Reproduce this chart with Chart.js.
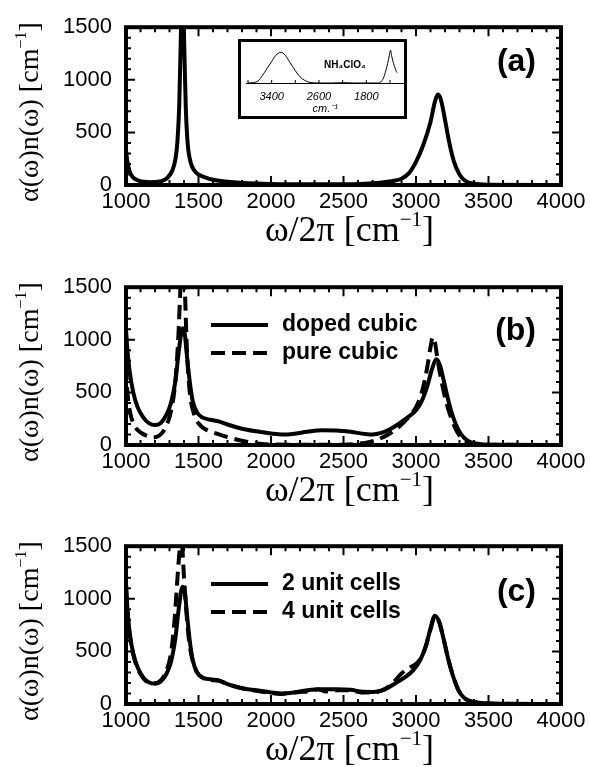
<!DOCTYPE html>
<html>
<head>
<meta charset="utf-8">
<script src="https://cdn.jsdelivr.net/npm/chart.js@4"></script>
<style>
  body { margin: 0; background: #fff; }
  #page { position: relative; width: 590px; height: 767px; overflow: hidden; }
  .panel { position: absolute; left: 0; width: 590px; height: 248px; }
  #inset { position: absolute; left: 238px; top: 39px; width: 169px; height: 80px;
           border: 3px solid #000; box-sizing: border-box; background: #fff; }
</style>
</head>
<body>
<div id="page">
  <div class="panel" style="top:0px"><canvas id="chartA"></canvas></div>
  <div class="panel" style="top:260px"><canvas id="chartB"></canvas></div>
  <div class="panel" style="top:519px"><canvas id="chartC"></canvas></div>
  <div id="inset"><canvas id="chartInset"></canvas></div>
</div>
<script>
// tick values
const xTickValues = [1000, 1500, 2000, 2500, 3000, 3500, 4000];
const yTickValues = [0, 500, 1000, 1500];
const insetTickValues = [3800, 3400, 3000, 2600, 2200, 1800, 1400];
const insetTickLabels = ['3400', '2600', '1800'];

// panel (a)
const waveA = [1000, 1010, 1025, 1050, 1080, 1120, 1170, 1220, 1260, 1290, 1320, 1340, 1355, 1368, 1378, 1386,
  1394, 1402, 1412, 1425, 1445, 1470, 1500, 1550, 1600, 1700, 1800, 2000, 2200, 2500, 2650, 2750, 2850,
  2900, 2950, 3000, 3050, 3100, 3130, 3150, 3170, 3200, 3230, 3260, 3300, 3340, 3400, 3500, 4000];
const absA = [330, 220, 130, 70, 45, 30, 25, 30, 45, 75, 140, 240, 420, 800, 1400, 1750,
  1750, 1300, 750, 400, 220, 140, 100, 70, 50, 30, 20, 10, 6, 6, 12, 22, 40,
  60, 110, 220, 380, 600, 790, 860, 820, 620, 400, 230, 100, 40, 12, 3, 0];

// panel (b)
const waveDoped = [1000, 1010, 1025, 1050, 1080, 1120, 1160, 1200, 1240, 1280, 1310, 1340, 1365, 1390, 1405,
  1420, 1440, 1460, 1490, 1530, 1580, 1640, 1700, 1800, 1900, 2000, 2080, 2150, 2250, 2350, 2450, 2550,
  2650, 2700, 2760, 2820, 2880, 2940, 3000, 3040, 3080, 3110, 3140, 3165, 3190, 3220, 3250, 3290, 3330,
  3380, 3450, 3550, 4000];
const absDoped = [1100, 900, 700, 500, 360, 260, 205, 190, 210, 290, 400, 600, 900, 1110, 1060,
  850, 600, 420, 310, 260, 240, 225, 195, 155, 130, 110, 100, 105, 125, 140, 138, 125,
  105, 100, 115, 150, 200, 260, 330, 420, 570, 720, 815, 760, 620, 440, 290, 150, 70,
  25, 8, 2, 0];
const wavePure = [1000, 1010, 1030, 1060, 1100, 1150, 1190, 1230, 1270, 1310, 1340, 1360, 1378, 1392, 1405,
  1420, 1440, 1470, 1510, 1560, 1620, 1700, 1800, 1900, 2000, 2200, 2500, 2600, 2680, 2750, 2820, 2880,
  2940, 3000, 3040, 3075, 3100, 3115, 3130, 3150, 3180, 3210, 3250, 3290, 3330, 3380, 3450, 4000];
const absPure = [750, 500, 300, 180, 120, 85, 72, 90, 160, 320, 600, 1000, 1550, 1700, 1500,
  900, 500, 290, 190, 140, 110, 75, 40, 15, 5, 2, 3, 12, 30, 60, 110, 170,
  250, 360, 500, 720, 930, 1025, 980, 800, 580, 400, 230, 110, 50, 15, 4, 0];

// panel (c)
const wave2Cells = [1000, 1010, 1025, 1050, 1080, 1120, 1160, 1200, 1240, 1280, 1310, 1340, 1365, 1390, 1405,
  1420, 1440, 1460, 1490, 1530, 1580, 1640, 1700, 1800, 1900, 2000, 2080, 2150, 2250, 2350, 2450, 2550,
  2620, 2700, 2780, 2850, 2920, 2980, 3030, 3070, 3100, 3130, 3160, 3190, 3220, 3250, 3290, 3330, 3380,
  3450, 3550, 4000];
const abs2Cells = [1150, 900, 680, 480, 350, 250, 205, 195, 215, 290, 400, 620, 920, 1115, 1070,
  860, 600, 420, 300, 250, 235, 225, 190, 150, 130, 110, 100, 108, 130, 140, 140, 135,
  118, 115, 135, 190, 250, 320, 420, 560, 720, 840, 780, 620, 440, 290, 140, 60, 25,
  10, 3, 0];
const wave4Cells = [1000, 1010, 1025, 1050, 1080, 1120, 1160, 1200, 1240, 1280, 1310, 1335, 1355, 1372, 1385,
  1398, 1415, 1435, 1460, 1490, 1530, 1580, 1640, 1700, 1800, 1900, 2000, 2060, 2120, 2200, 2280, 2320,
  2380, 2450, 2550, 2620, 2700, 2780, 2840, 2900, 2960, 3000, 3040, 3070, 3100, 3130, 3160, 3190, 3220,
  3250, 3290, 3330, 3380, 3450, 3550, 4000];
const abs4Cells = [1100, 880, 670, 470, 340, 245, 200, 195, 225, 320, 480, 800, 1200, 1480, 1520,
  1250, 900, 600, 410, 300, 250, 230, 220, 190, 150, 125, 105, 95, 105, 115, 120, 140,
  120, 130, 130, 110, 110, 140, 200, 290, 350, 380, 450, 560, 710, 830, 780, 620, 440,
  290, 140, 60, 25, 10, 3, 0];

// inset (NH4ClO4 spectrum)
const insetWave = [3800, 3700, 3630, 3560, 3480, 3400, 3330, 3240, 3170, 3090, 3000, 2920, 2840, 2750, 2600,
  2400, 2200, 2000, 1800, 1600, 1555, 1510, 1470, 1440, 1410, 1390, 1370, 1340, 1310, 1290, 1275];
const insetAbs = [0, 0.5, 2, 7, 14, 21, 27, 30, 27, 20, 12, 6, 2.5, 0.5, 0,
  0, 0.3, 0, 0, 0, 1, 5, 12, 19, 27, 32, 26, 19, 14, 11, 10];

Chart.defaults.font.family = '"Liberation Sans", Arial, sans-serif';
Chart.defaults.color = '#000';
Chart.defaults.animation = false;

const SERIF = '"Liberation Serif", "Times New Roman", serif';

function drawUnitTitle(ctx, main, x, y, size) {
  // "... [cm" + raised "−1" + "]", centred on x
  const supSize = Math.round(size * 0.58);
  ctx.font = size + 'px ' + SERIF;
  const w1 = ctx.measureText(main).width;
  const w3 = ctx.measureText(']').width;
  ctx.font = supSize + 'px ' + SERIF;
  const w2 = ctx.measureText('\u22121').width;
  const start = x - (w1 + w2 + w3) / 2;
  ctx.textAlign = 'left';
  ctx.textBaseline = 'alphabetic';
  ctx.font = size + 'px ' + SERIF;
  ctx.fillText(main, start, y);
  ctx.fillText(']', start + w1 + w2, y);
  ctx.font = supSize + 'px ' + SERIF;
  ctx.fillText('\u22121', start + w1, y - size * 0.42);
}

const frameTicks = {
  id: 'frameTicks',
  afterDatasetsDraw(chart) {
    const { ctx, chartArea: a, scales: { x, y } } = chart;
    ctx.save();
    ctx.strokeStyle = '#000';
    ctx.lineWidth = 2;
    ctx.beginPath();
    for (let v = 1000; v <= 4000; v += 100) {
      const px = x.getPixelForValue(v);
      const len = v % 500 === 0 ? 9 : 5;
      ctx.moveTo(px, a.bottom); ctx.lineTo(px, a.bottom - len);
      ctx.moveTo(px, a.top); ctx.lineTo(px, a.top + len);
    }
    for (let v = 0; v <= 1500; v += 100) {
      const py = y.getPixelForValue(v);
      const len = v % 500 === 0 ? 9 : 5;
      ctx.moveTo(a.left, py); ctx.lineTo(a.left + len, py);
      ctx.moveTo(a.right, py); ctx.lineTo(a.right - len, py);
    }
    ctx.stroke();
    ctx.lineWidth = 4;
    ctx.strokeRect(a.left, a.top, a.width, a.height);
    ctx.restore();
  }
};

const decor = {
  id: 'decor',
  afterDraw(chart) {
    const o = chart.options.plugins.decor;
    const { ctx, chartArea: a } = chart;
    ctx.save();
    ctx.fillStyle = '#000';
    // panel label
    ctx.font = 'bold 32px "Liberation Sans", Arial, sans-serif';
    ctx.textAlign = 'right';
    ctx.textBaseline = 'middle';
    ctx.fillText(o.label, 536, o.labelY);
    // legend
    if (o.legend) {
      chart.data.datasets.forEach((ds, i) => {
        const ly = 65 + i * 28;
        ctx.beginPath();
        ctx.setLineDash(ds.borderDash || []);
        ctx.lineWidth = 4;
        ctx.strokeStyle = '#000';
        ctx.moveTo(211, ly); ctx.lineTo(268, ly);
        ctx.stroke();
        ctx.setLineDash([]);
        ctx.font = 'bold 23px "Liberation Sans", Arial, sans-serif';
        ctx.textAlign = 'left';
        ctx.textBaseline = 'middle';
        ctx.fillText(ds.label, 282, ly);
      });
    }
    // y title (rotated)
    ctx.save();
    ctx.translate(38, (a.top + a.bottom) / 2 + 6);
    ctx.rotate(-Math.PI / 2);
    drawUnitTitle(ctx, '\u03b1(\u03c9)n(\u03c9) [cm', 0, 0, 28);
    ctx.restore();
    // x title
    drawUnitTitle(ctx, '\u03c9/2\u03c0 [cm', (a.left + a.right) / 2 + 6, 241, 36);
    ctx.restore();
  }
};

function makePanel(id, series, label, labelY, legend) {
  return new Chart(document.getElementById(id), {
    type: 'line',
    data: {
      datasets: series.map(s => ({
        label: s.label,
        data: s.wave.map((w, i) => ({ x: w, y: s.abs[i] })),
        borderColor: '#000',
        borderWidth: 4,
        borderDash: s.dash || [],
        borderJoinStyle: 'round',
        pointRadius: 0,
        cubicInterpolationMode: 'monotone',
        fill: false
      }))
    },
    options: {
      responsive: true,
      maintainAspectRatio: false,
      layout: { padding: { top: 22, right: 29, left: 0, bottom: 0 } },
      plugins: {
        legend: { display: false },
        tooltip: { enabled: false },
        decor: { label: label, labelY: labelY, legend: legend }
      },
      scales: {
        x: {
          type: 'linear', min: 1000, max: 4000,
          grid: { display: false, drawTicks: false },
          border: { display: false },
          afterBuildTicks: s => { s.ticks = xTickValues.map(v => ({ value: v })); },
          afterFit: s => { s.height = 63; },
          ticks: { font: { size: 22 }, padding: 4, maxRotation: 0, callback: v => String(v) }
        },
        y: {
          min: 0, max: 1500,
          grid: { display: false, drawTicks: false },
          border: { display: false },
          afterBuildTicks: s => { s.ticks = yTickValues.map(v => ({ value: v })); },
          afterFit: s => { s.width = 126; },
          ticks: { font: { size: 22 }, padding: 14, callback: v => String(v) }
        }
      }
    },
    plugins: [frameTicks, decor]
  });
}

makePanel('chartA', [{ label: 'a', wave: waveA, abs: absA }], '(a)', 62, false);
makePanel('chartB', [
  { label: 'doped cubic', wave: waveDoped, abs: absDoped },
  { label: 'pure cubic', wave: wavePure, abs: absPure, dash: [14, 7] }
], '(b)', 71, true);
makePanel('chartC', [
  { label: '2 unit cells', wave: wave2Cells, abs: abs2Cells },
  { label: '4 unit cells', wave: wave4Cells, abs: abs4Cells, dash: [14, 7] }
], '(c)', 73, true);

// inset: experimental spectrum
const insetDecor = {
  id: 'insetDecor',
  afterDraw(chart) {
    const { ctx, chartArea: a, scales: { x } } = chart;
    ctx.save();
    ctx.strokeStyle = '#000';
    ctx.lineWidth = 1;
    ctx.beginPath();
    insetTickValues.forEach(v => {
      const px = x.getPixelForValue(v);
      ctx.moveTo(px, a.bottom); ctx.lineTo(px, a.bottom - 3);
    });
    ctx.stroke();
    ctx.fillStyle = '#000';
    ctx.font = 'bold 10px "Liberation Sans", Arial, sans-serif';
    ctx.textAlign = 'center';
    ctx.textBaseline = 'middle';
    ctx.fillText('NH\u2084ClO\u2084', 104, 23);
    ctx.restore();
  }
};

new Chart(document.getElementById('chartInset'), {
  type: 'line',
  data: {
    datasets: [{
      data: insetWave.map((w, i) => ({ x: w, y: insetAbs[i] })),
      borderColor: '#000',
      borderWidth: 1,
      pointRadius: 0,
      cubicInterpolationMode: 'monotone'
    }]
  },
  options: {
    responsive: true,
    maintainAspectRatio: false,
    layout: { padding: 0 },
    plugins: { legend: { display: false }, tooltip: { enabled: false } },
    scales: {
      x: {
        type: 'linear', min: 1163, max: 3825, reverse: true,
        grid: { display: false, drawTicks: false },
        border: { display: true, color: '#000', width: 1 },
        afterBuildTicks: s => { s.ticks = insetTickValues.map(v => ({ value: v })); },
        afterFit: s => { s.height = 33; },
        ticks: {
          font: { size: 11, style: 'italic' }, padding: 7, maxRotation: 0, autoSkip: false,
          callback: v => insetTickLabels.includes(String(v)) ? String(v) : ''
        },
        title: { display: true, text: 'cm.\u207b\u00b9', font: { size: 11, style: 'italic' }, padding: 0 }
      },
      y: { display: false, min: 0, max: 40 }
    }
  },
  plugins: [insetDecor]
});
</script>
</body>
</html>
